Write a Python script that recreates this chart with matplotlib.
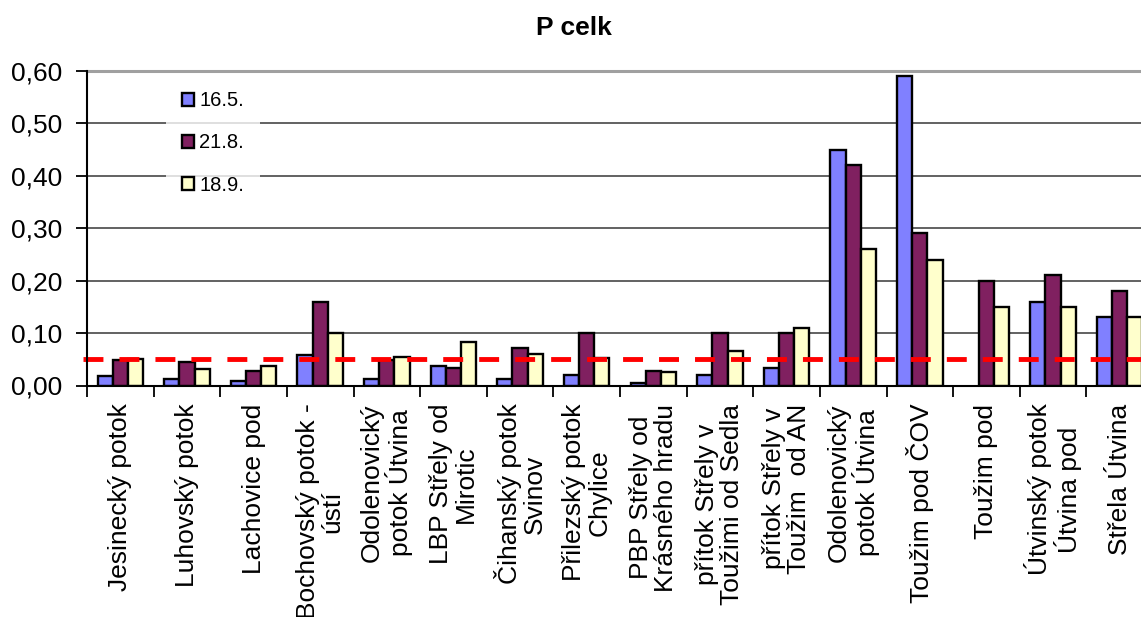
import numpy as np
import matplotlib
matplotlib.use("Agg")
import matplotlib.pyplot as plt
from matplotlib.patches import Patch
from matplotlib.ticker import FuncFormatter, MultipleLocator

plt.rcParams['font.family'] = ['Liberation Sans', 'DejaVu Sans']

# Sampling sites
categories = [
    "Jesinecký potok",
    "Luhovský potok",
    "Lachovice pod",
    "Bochovský potok -\nústí",
    "Odolenovický\npotok Útvina",
    "LBP Střely od\nMirotic",
    "Čihanský potok\nSvinov",
    "Přilezský potok\nChylice",
    "PBP Střely od\nKrásného hradu",
    "přítok Střely v\nToužimi od Sedla",
    "přítok Střely v\nToužim  od AN",
    "Odolenovický\npotok Útvina",
    "Toužim pod ČOV",
    "Toužim pod",
    "Útvinský potok\nÚtvina pod",
    "Střela Útvina",
]

series_labels = ["16.5.", "21.8.", "18.9."]

# Total phosphorus per sampling date
p_may = [0.018, 0.013, 0.008, 0.059, 0.013, 0.038, 0.013, 0.020, 0.004, 0.020,
         0.033, 0.450, 0.590, np.nan, 0.160, 0.130]
p_aug = [0.048, 0.044, 0.027, 0.160, 0.049, 0.033, 0.072, 0.100, 0.028, 0.100,
         0.100, 0.420, 0.290, 0.200, 0.210, 0.180]
p_sep = [0.050, 0.031, 0.038, 0.100, 0.055, 0.083, 0.061, 0.052, 0.026, 0.065,
         0.109, 0.260, 0.240, 0.150, 0.150, 0.130]

limit_value = 0.05

colors = ["#8080ff", "#802060", "#ffffcc"]

W, H = 1141, 617
fig = plt.figure(figsize=(W / 100, H / 100), dpi=100)

# Plot area in pixels: left 87, right 1153 (runs past the figure edge), y from 71 to 385.5
left, right, top, bottom = 87, 1153, 71, 385.5
ax = fig.add_axes([left / W, 1 - bottom / H, (right - left) / W, (bottom - top) / H])

x = np.arange(len(categories))
bw = 0.228
for k, (vals, c, lab) in enumerate(zip([p_may, p_aug, p_sep], colors, series_labels)):
    ax.bar(x + (k - 1) * bw, vals, width=bw, color=c, edgecolor="black",
           linewidth=1.7, label=lab, zorder=3)

ax.set_xlim(-0.5, len(categories) - 0.5)
ax.set_ylim(0, 0.6)

# Horizontal gridlines
for yv in np.arange(0.1, 0.55, 0.1):
    ax.axhline(yv, color="#555555", linewidth=1.3, zorder=1)
ax.axhline(0.6, color="#a0a0a0", linewidth=2.2, zorder=1, clip_on=False)

# Limit line
ax.plot([-0.5 - 4 / 66.6, len(categories)], [limit_value, limit_value],
        color="#ff0000", linewidth=3.5, dashes=(4.1, 3.3),
        solid_capstyle="butt", dash_capstyle="butt", zorder=4, clip_on=False)

for s in ["top", "right"]:
    ax.spines[s].set_visible(False)
for s in ["left", "bottom"]:
    ax.spines[s].set_linewidth(1.5)
    ax.spines[s].set_color("black")
    ax.spines[s].set_zorder(5)

ax.yaxis.set_major_locator(MultipleLocator(0.1))
ax.yaxis.set_major_formatter(FuncFormatter(lambda v, p: f"{v:.2f}".replace(".", ",")))
ax.tick_params(axis="y", length=8, width=1.3, pad=10, labelsize=19, direction="out")

ax.set_xticks(x)
ax.set_xticklabels(categories, rotation=90, fontsize=19, linespacing=1.05,
                   ha="center", va="top", multialignment="center")
ax.tick_params(axis="x", which="major", length=0, pad=13)
ax.set_xticks(np.arange(-0.5, len(categories), 1.0), minor=True)
ax.tick_params(axis="x", which="minor", length=8, width=1.3, direction="out")

handles = [Patch(facecolor=c, edgecolor="black", linewidth=1.7) for c in colors]
leg = ax.legend(handles, series_labels, loc="center",
                bbox_to_anchor=(213 / W, 1 - 143 / H), bbox_transform=fig.transFigure,
                fontsize=14.5, frameon=True, handlelength=0.6, handleheight=0.6,
                handletextpad=0.25, labelspacing=1.15, borderpad=0.8,
                borderaxespad=0, fancybox=False)
leg.get_frame().set_facecolor("white")
leg.get_frame().set_edgecolor("none")
leg.set_zorder(6)

fig.text(574 / W, 1 - 28 / H, "P celk", fontsize=19, fontweight="bold",
         ha="center", va="center")

fig.savefig("out.png", dpi=100)
